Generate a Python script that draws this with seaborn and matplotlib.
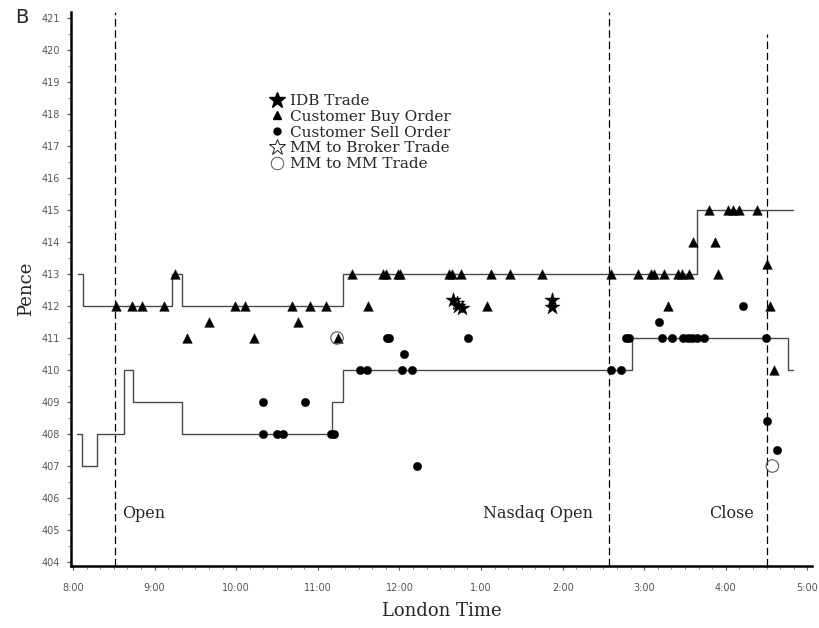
import matplotlib
matplotlib.use("Agg")
import matplotlib.pyplot as plt
from matplotlib.lines import Line2D
from matplotlib.ticker import MultipleLocator, FixedLocator
import numpy as np
import pandas as pd
import seaborn as sns

# times are decimal London hours (13.0 = 1:00 pm)
ASK_TIME = [8.06, 8.12, 9.21, 9.34, 11.31, 15.65, 16.82]
ASK_PRICE = [413, 412, 413, 412, 413, 415, 415]
BID_TIME = [8.05, 8.11, 8.29, 8.625, 8.735, 9.34, 11.17, 11.31, 14.85, 16.76, 16.82]
BID_PRICE = [408, 407, 408, 410, 409, 408, 409, 410, 411, 410, 410]

BUY_TIME = [8.53, 8.72, 8.85, 9.12, 9.99, 10.11, 10.68, 10.90, 11.10, 11.62, 13.07, 15.29, 16.54,
            9.25, 11.42, 11.80, 11.84, 11.98, 12.01, 12.61, 12.65, 12.76, 13.12, 13.36, 13.75,
            14.59, 14.92, 15.08, 15.12, 15.24, 15.41, 15.46, 15.55, 15.90,
            15.60, 15.87, 15.79, 16.03, 16.09, 16.16, 16.38,
            16.51, 16.59, 9.67, 10.76, 9.40, 10.22, 11.25]
BUY_PRICE = [412] * 13 + [413] * 21 + [414, 414] + [415] * 5 + [413.3, 410, 411.5, 411.5, 411, 411, 411]

SELL_TIME = [10.33, 10.84, 10.33, 10.50, 10.57, 11.16, 11.20,
             11.85, 11.87, 12.84, 14.78, 14.81, 15.22, 15.34, 15.48, 15.53, 15.59, 15.65, 15.73, 16.49,
             12.06, 11.52, 11.60, 12.03, 12.15, 14.59, 14.72,
             12.22, 15.18, 16.21, 16.51, 16.63]
SELL_PRICE = [409, 409, 408, 408, 408, 408, 408] + [411] * 13 + [410.5] + [410] * 6 + [407, 411.5, 412, 408.4, 407.5]

IDB_TIME = [12.66, 12.72, 12.77, 13.87, 13.87]
IDB_PRICE = [412.19, 412.0, 411.95, 412.2, 411.97]
MM_BROKER_TIME = [12.70]
MM_BROKER_PRICE = [412.1]
MM_MM_TIME = [11.235, 16.57]
MM_MM_PRICE = [411.0, 407.0]

EVENT_TIME = [8.52, 14.57, 16.50]
EVENT_LABELS = ["Open", "Nasdaq Open", "Close"]

HOUR_TICKS = [8, 9, 10, 11, 12, 13, 14, 15, 16, 17]
HOUR_LABELS = ["8:00", "9:00", "10:00", "11:00", "12:00", "1:00", "2:00", "3:00", "4:00", "5:00"]

SERIF = "DejaVu Serif"

sns.set_theme(style="ticks")
plt.rcParams["font.family"] = ["DejaVu Sans"]

fig = plt.figure(figsize=(8.19, 6.28), dpi=100)
ax = fig.add_axes([0.0872, 0.0987, 0.9037, 0.8823])

line_kw = dict(color="#4a4a4a", linewidth=1.0, estimator=None, drawstyle="steps-post", legend=False)
sns.lineplot(x=ASK_TIME, y=ASK_PRICE, ax=ax, **line_kw)
sns.lineplot(x=BID_TIME, y=BID_PRICE, ax=ax, **line_kw)

for t in EVENT_TIME[:2]:
    ax.axvline(t, color="black", linewidth=0.9, linestyle=(0, (6, 3)), zorder=1)
ax.axvline(EVENT_TIME[2], ymax=0.96, color="black", linewidth=0.9, linestyle=(0, (6, 3)), zorder=1)

sns.scatterplot(x=MM_BROKER_TIME, y=MM_BROKER_PRICE, marker="*", s=110, facecolor="white",
                edgecolor="black", linewidth=0.6, ax=ax, zorder=3)
sns.scatterplot(x=BUY_TIME, y=BUY_PRICE, marker="^", s=48, color="black", edgecolor="black",
                linewidth=0.3, ax=ax, zorder=4)
sns.scatterplot(x=SELL_TIME, y=SELL_PRICE, marker="o", s=36, color="black", edgecolor="black",
                linewidth=0.3, ax=ax, zorder=4)
sns.scatterplot(x=MM_MM_TIME, y=MM_MM_PRICE, marker="o", s=80, facecolor="none",
                edgecolor="#555555", linewidth=0.8, ax=ax, zorder=5)
sns.scatterplot(x=IDB_TIME, y=IDB_PRICE, marker="*", s=130, color="black", edgecolor="black",
                linewidth=0.3, ax=ax, zorder=5)

ax.set_xlim(7.98, 17.05)
ax.set_ylim(403.875, 421.19)
ax.xaxis.set_major_locator(FixedLocator(HOUR_TICKS))
ax.set_xticklabels(HOUR_LABELS)
ax.xaxis.set_minor_locator(MultipleLocator(1 / 6))
ax.yaxis.set_major_locator(MultipleLocator(1))
ax.yaxis.set_minor_locator(MultipleLocator(0.5))
ax.tick_params(axis="both", which="major", length=3, width=0.8, colors="#555555", labelsize=7)
ax.tick_params(axis="both", which="minor", length=2, width=0.6, colors="#777777")
ax.tick_params(axis="x", which="major", pad=9)
ax.tick_params(axis="y", which="major", pad=5)

sns.despine(ax=ax)
ax.spines["left"].set_linewidth(1.8)
ax.spines["bottom"].set_linewidth(1.8)
ax.spines["left"].set_color("black")
ax.spines["bottom"].set_color("black")

ax.set_xlabel("London Time", family=SERIF, fontsize=13, labelpad=7)
ax.set_ylabel("Pence", family=SERIF, fontsize=13, labelpad=5)

ax.text(8.6, 405.53, EVENT_LABELS[0], family=SERIF, fontsize=11.5, ha="left", va="center")
ax.text(14.37, 405.53, EVENT_LABELS[1], family=SERIF, fontsize=11.5, ha="right", va="center")
ax.text(16.35, 405.53, EVENT_LABELS[2], family=SERIF, fontsize=11.5, ha="right", va="center")

handles = [
    Line2D([], [], linestyle="none", marker="*", markersize=12, color="black"),
    Line2D([], [], linestyle="none", marker="^", markersize=6, color="black"),
    Line2D([], [], linestyle="none", marker="o", markersize=5, color="black"),
    Line2D([], [], linestyle="none", marker="*", markersize=12, markerfacecolor="white",
           markeredgecolor="black", markeredgewidth=0.6),
    Line2D([], [], linestyle="none", marker="o", markersize=9, markerfacecolor="white",
           markeredgecolor="#555555", markeredgewidth=0.7),
]
labels = ["IDB Trade", "Customer Buy Order", "Customer Sell Order",
          "MM to Broker Trade", "MM to MM Trade"]
ax.legend(handles, labels, loc="upper left", bbox_to_anchor=(0.268, 0.852), frameon=False,
          prop={"family": SERIF, "size": 11}, labelspacing=0.12, handletextpad=0.35,
          handlelength=1.0, borderpad=0, borderaxespad=0)

fig.text(0.018, 0.972, "B", fontsize=14, ha="left", va="center")

fig.savefig("out.png", dpi=100)
